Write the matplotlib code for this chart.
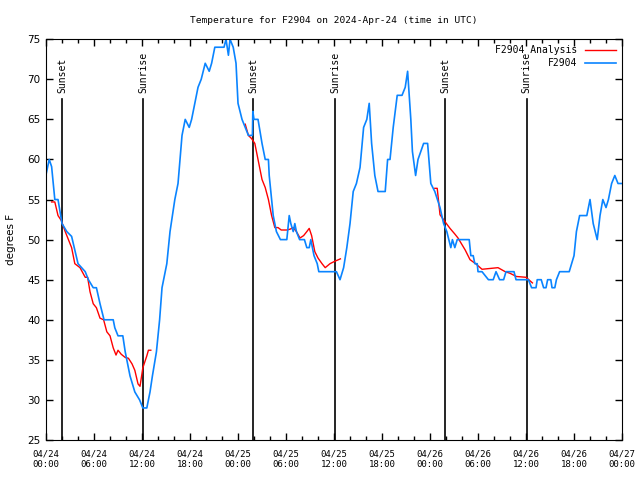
import pandas as pd
import matplotlib
matplotlib.use("Agg")
import matplotlib.pyplot as plt
import matplotlib.dates as mdates

# hours after 2024-04-24 00:00 UTC, temperature in F
obs_hours = [0.0, 0.4, 0.7, 1.1, 1.5, 2.0, 2.6, 3.2, 4.0, 4.9, 5.3, 5.9, 6.3, 6.75, 7.25,
             8.4, 8.6, 9.0, 9.6, 9.9, 10.5, 11.1, 11.7, 12.1, 12.6, 13.0, 13.3, 13.8, 14.2,
             14.5, 15.1, 15.5, 16.1, 16.5, 17.0, 17.4, 17.9, 18.2, 18.6, 19.0, 19.4, 19.9,
             20.4, 20.7, 21.1, 22.25, 22.5, 22.8, 23.0, 23.4, 23.75, 24.0, 24.5, 24.9, 25.3,
             25.8, 25.85, 26.0, 26.3, 26.5, 27.0, 27.4, 27.8, 27.9, 28.2, 28.4, 28.8, 29.3,
             30.1, 30.4, 30.6, 30.9, 31.1, 31.3, 31.7, 32.3, 32.6, 32.9, 33.1, 33.3, 33.5,
             33.9, 34.1, 35.5, 36.3, 36.75, 37.2, 37.6, 38.0, 38.4, 38.8, 39.25, 39.7, 40.1,
             40.4, 40.7, 41.1, 41.5, 42.4, 42.7, 43.0, 43.4, 43.9, 44.5, 44.9, 45.2, 45.6,
             45.8, 46.2, 46.5, 47.2, 47.7, 48.1, 48.6, 49.25, 49.7, 50.1, 50.6, 50.8, 51.1,
             51.4, 52.9, 53.1, 53.4, 53.6, 53.9, 54.0, 54.5, 54.9, 55.3, 55.9, 56.25, 56.7,
             57.2, 57.5, 58.5, 58.75, 60.3, 60.7, 61.25, 61.4, 61.9, 62.2, 62.5, 62.7, 63.1,
             63.25, 63.6, 63.8, 64.2, 65.4, 65.7, 66.0, 66.3, 66.7, 67.6, 68.0, 68.4, 68.9,
             69.25, 69.6, 70.0, 70.3, 70.7, 71.1, 71.5, 72.0]
obs_temp = [58.1, 60, 59.1, 55, 55, 52, 51, 50.4, 47, 46, 45, 44, 44, 42, 40,
            40, 39, 38, 38, 36, 33, 31, 30, 29, 29, 31, 33, 36, 40,
            44, 47, 51, 55, 57, 63, 65, 64, 65, 67, 69, 70, 72,
            71, 72, 74, 74, 75, 73, 75, 74, 72, 67, 65, 64, 63,
            63, 66, 65, 65, 65, 62, 60, 60, 58, 55, 53, 51, 50,
            50, 53, 52, 51, 52, 51, 50, 50, 49, 49, 50, 49, 48,
            47, 46, 46, 46, 45, 46.5, 49, 52, 56, 57, 59, 64, 65,
            67, 62, 58, 56, 56, 60, 60, 64, 68, 68, 69, 71, 65,
            61, 58, 60, 62, 62, 57, 56, 54, 52, 51, 49, 50, 49,
            50, 50, 48, 48, 47, 47, 46, 46, 45.5, 45, 45, 46, 45,
            45, 46, 46, 45, 45, 44, 44, 45, 45, 44, 44, 45, 45,
            44, 44, 45, 46, 46, 47, 48, 51, 53, 53, 55, 52, 50,
            53, 55, 54, 55, 57, 58, 57, 57]

# analysis (three night segments)
ana1_hours = [0.7, 1.1, 1.5, 1.9, 2.4, 2.8, 3.2, 3.6, 4.25, 4.9, 5.2, 5.5, 5.9, 6.3, 6.75,
              7.2, 7.6, 8.0, 8.4, 8.75, 9.0, 9.4, 9.9, 10.3, 10.75, 11.1, 11.5, 11.75,
              11.95, 12.1, 12.6, 12.8, 13.1]
ana1_temp = [54.7, 54.7, 53, 52.4, 51, 50, 49, 47, 46.5, 45.3, 45.3, 43.5, 42, 41.5, 40.2,
             40, 38.5, 38, 36.5, 35.6, 36.2, 35.7, 35.3, 35.2, 34.5, 33.7, 32, 31.7,
             33, 34, 35.5, 36.2, 36.2]
ana2_hours = [24.9, 25.3, 25.7, 26.1, 26.5, 27.0, 27.4, 27.8, 28.2, 28.6, 29.0, 29.4, 30.1,
              30.5, 30.9, 31.3, 31.75, 32.2, 32.6, 32.9, 33.2, 33.6, 34.0, 34.5, 34.9, 35.5,
              36.1, 36.8]
ana2_temp = [64.4, 63, 62.6, 62, 60, 57.5, 56.5, 55, 53, 51.5, 51.5, 51.2, 51.2,
             51.3, 51.5, 51, 50.2, 50.5, 51, 51.4, 50.5, 48.5, 47.7, 47, 46.5, 47,
             47.3, 47.6]
ana3_hours = [48.6, 48.9, 49.25, 49.9, 50.5, 51.1, 51.5, 52.4, 53.0, 53.7, 54.5, 55.5, 56.5,
              57.4, 58.0, 58.8, 60.0, 60.8]
ana3_temp = [56.4, 56.4, 53.1, 52.2, 51.4, 50.7, 50.2, 48.7, 47.5, 47.0, 46.3, 46.4, 46.5,
             46.0, 45.8, 45.4, 45.3, 44.6]

sun_hours = [2.0, 12.15, 25.9, 36.15, 49.9, 60.1]
sun_labels = ["Sunset", "Sunrise", "Sunset", "Sunrise", "Sunset", "Sunrise"]

start = pd.Timestamp("2024-04-24 00:00")


def to_time(hours):
    return [start + pd.Timedelta(hours=h) for h in hours]


mono = "DejaVu Sans Mono"

fig = plt.figure(figsize=(6.4, 4.8), dpi=100)
ax = fig.add_axes([0.0719, 0.0833, 0.9, 0.835])

# sunrise / sunset markers
for h, lab in zip(sun_hours, sun_labels):
    t = start + pd.Timedelta(hours=h)
    ax.plot([t, t], [25, 67.6], color="black", lw=1.2)
    ax.text(t, 68.3, lab, rotation=90, ha="center", va="bottom", fontsize=7,
            family=mono)

ax.plot(to_time(ana1_hours), ana1_temp, color="red", lw=1, label="F2904 Analysis")
ax.plot(to_time(ana2_hours), ana2_temp, color="red", lw=1)
ax.plot(to_time(ana3_hours), ana3_temp, color="red", lw=1)
ax.plot(to_time(obs_hours), obs_temp, color="#0a84ff", lw=1.2, label="F2904")

ax.set_xlim(start, start + pd.Timedelta(hours=72))
ax.set_ylim(25, 75)
ax.set_yticks(range(25, 80, 5))
ax.xaxis.set_major_locator(mdates.HourLocator(byhour=[0, 6, 12, 18]))
ax.xaxis.set_minor_locator(mdates.HourLocator(interval=2))
ax.xaxis.set_major_formatter(mdates.DateFormatter("%m/%d\n%H:%M"))
ax.tick_params(axis="both", which="both", direction="in", top=True, right=True)
ax.tick_params(axis="both", which="major", length=5, width=1)
ax.tick_params(axis="x", which="minor", length=3, width=1)
ax.tick_params(axis="y", labelsize=7.5, pad=4)
ax.tick_params(axis="x", labelsize=6.5, pad=7)
for lbl in ax.get_xticklabels():
    lbl.set_family(mono)

ax.set_ylabel("degrees F", fontsize=7.5, labelpad=8)
ax.set_title("Temperature for F2904 on 2024-Apr-24 (time in UTC)", fontsize=6.8,
             family=mono, pad=12)

leg = ax.legend(loc="upper right", frameon=False, prop={"family": mono, "size": 7},
                handlelength=3.2, borderaxespad=0.2, labelspacing=0.3,
                markerfirst=False, handletextpad=0.8)

fig.savefig("out.png", dpi=100)
